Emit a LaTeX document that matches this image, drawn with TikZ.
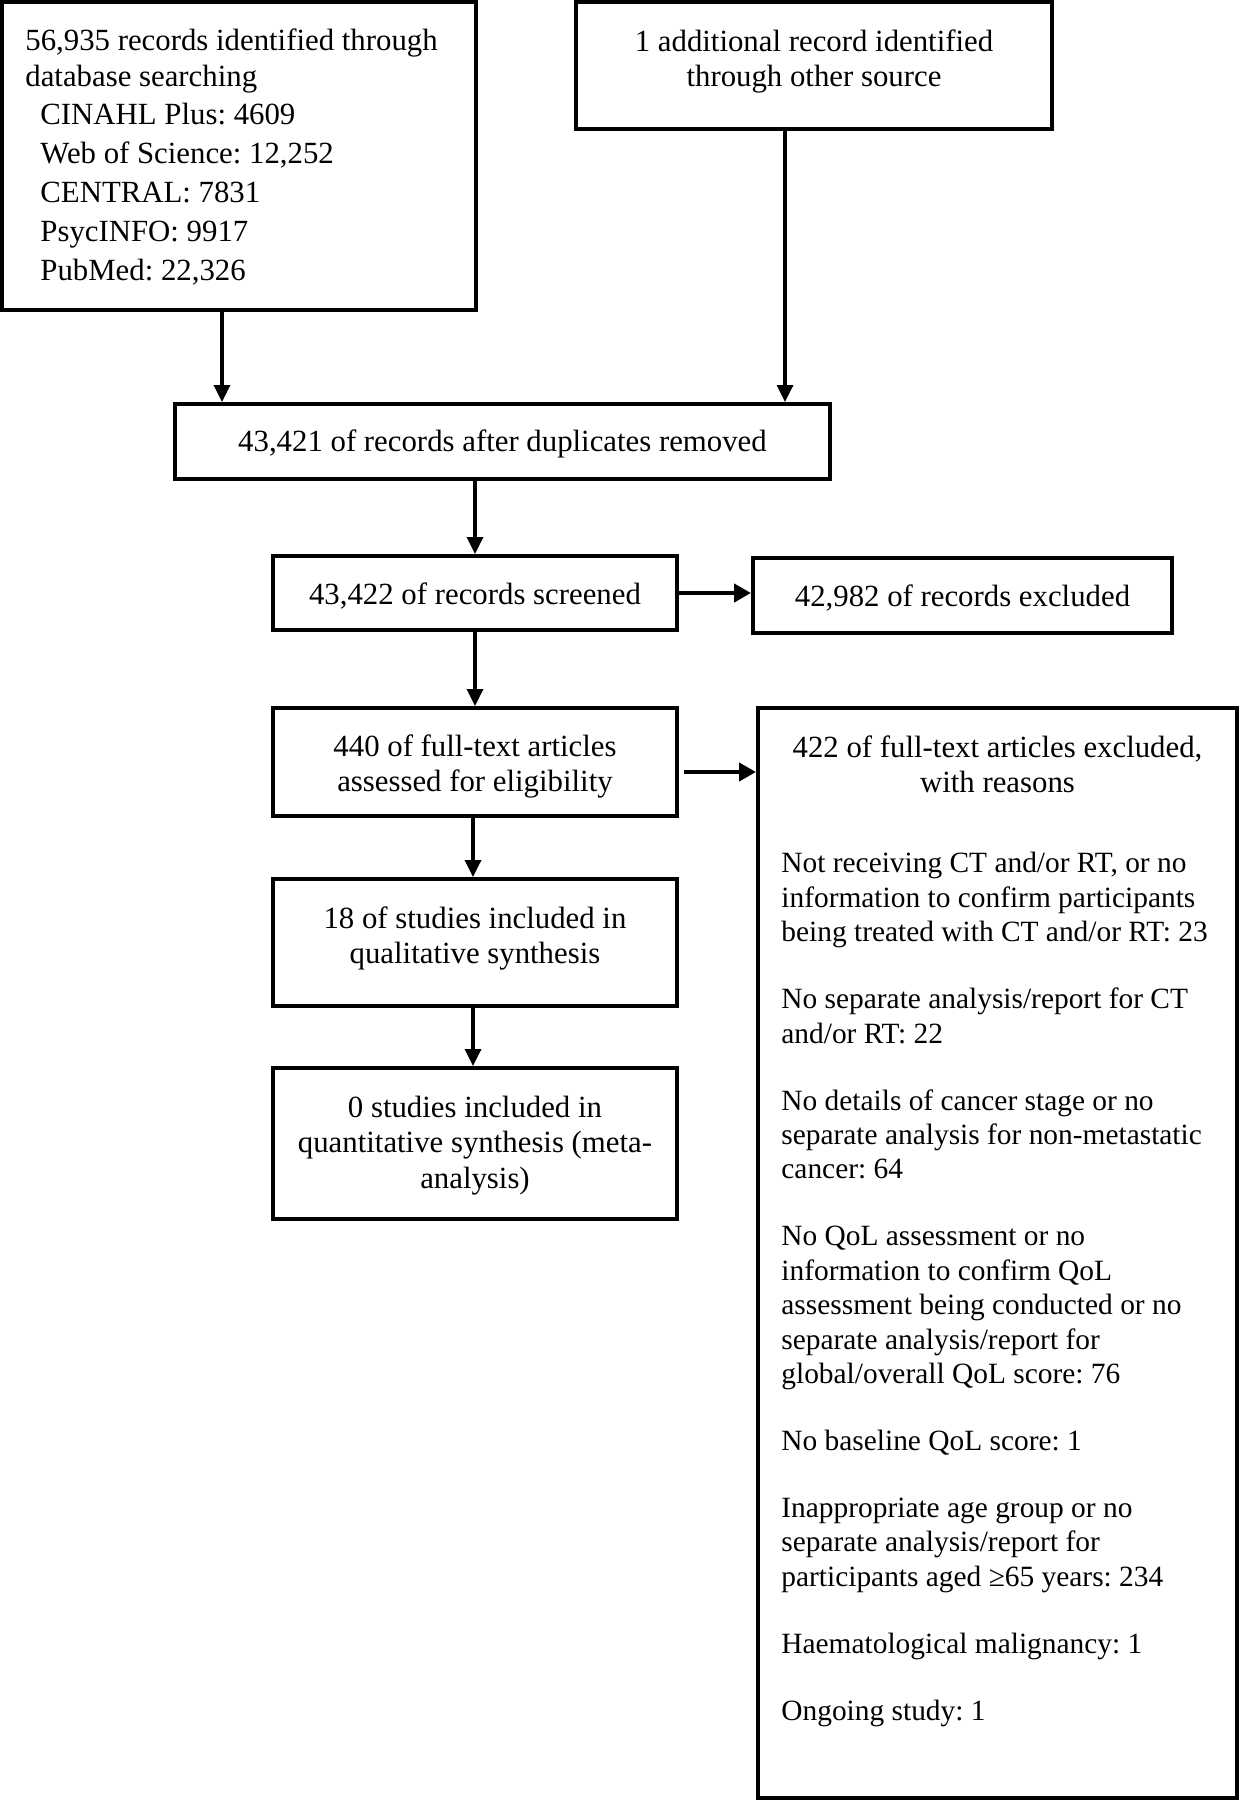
\documentclass[tikz,border=0pt]{standalone}
\usepackage{fontspec}
\setmainfont{Liberation Serif}
\frenchspacing
\usetikzlibrary{arrows.meta}
\begin{document}
\begin{tikzpicture}[x=0.5pt,y=-0.5pt,
  box/.style={draw=black, line width=2pt, inner sep=0pt, fill=none},
  txt/.style={inner sep=0pt, font=\fontsize{15.4}{17.8}\selectfont},
  bodytxt/.style={inner sep=0pt, font=\fontsize{14.7}{17.2}\selectfont, align=left},
  varr/.style={line width=1.7pt, -{Triangle[length=8.5pt,width=8pt]}},
  harr/.style={line width=2.3pt, -{Triangle[length=8.5pt,width=9pt]}}]
\useasboundingbox (0,0) rectangle (1240,1800);
% boxes
\node[box, minimum width=237pt, minimum height=154pt] (A) at (239,156) {};
\node[box, minimum width=238pt, minimum height=63.5pt] (B) at (814,65.5) {};
\node[box, minimum width=327.5pt, minimum height=37.5pt] (C) at (502.5,441.5) {};
\node[box, minimum width=202pt, minimum height=37pt] (D) at (475,593) {};
\node[box, minimum width=209.5pt, minimum height=37.5pt] (E) at (962.5,595.5) {};
\node[box, minimum width=202pt, minimum height=54pt] (F) at (475,762) {};
\node[box, minimum width=202pt, minimum height=63.5pt] (G) at (475,942.5) {};
\node[box, minimum width=202pt, minimum height=75.5pt] (H) at (475,1143.5) {};
\node[box, minimum width=239.5pt, minimum height=545pt] (I) at (997.5,1253) {};
% texts
\node[txt, anchor=north west, align=left] (At) at (25,28.5) {56,935 records identified through\\database searching\\[1.6pt]\hspace*{7.5pt}CINAHL Plus: 4609\\[1.6pt]\hspace*{7.5pt}Web of Science: 12,252\\[1.6pt]\hspace*{7.5pt}CENTRAL: 7831\\[1.6pt]\hspace*{7.5pt}PsycINFO: 9917\\[1.6pt]\hspace*{7.5pt}PubMed: 22,326};
\node[txt, anchor=north, align=center] (Bt) at (814,29) {1 additional record identified\\through other source};
\node[txt] (Ct) at ([yshift=-1.15pt]C.center) {43,421 of records after duplicates removed};
\node[txt] (Dt) at ([yshift=-1.7pt]D.center) {43,422 of records screened};
\node[txt] (Et) at ([yshift=-1.15pt]E.center) {42,982 of records excluded};
\node[txt, align=center] (Ft) at ([yshift=-2.3pt]F.center) {440 of full-text articles\\assessed for eligibility};
\node[txt, align=center] (Gt) at (475,938.5) {18 of studies included in\\qualitative synthesis};
\node[txt, align=center] (Ht) at ([yshift=-0.9pt]H.center) {0 studies included in\\quantitative synthesis (meta-\\analysis)};
\node[txt, anchor=north, align=center] (Ih) at (997.5,735) {422 of full-text articles excluded,\\with reasons};
\node[bodytxt, anchor=north west] (It) at (781,852) {Not receiving CT and/or RT, or no\\information to confirm participants\\being treated with CT and/or RT: 23\\[16.3pt]No separate analysis/report for CT\\and/or RT: 22\\[16.3pt]No details of cancer stage or no\\separate analysis for non-metastatic\\cancer: 64\\[16.3pt]No QoL assessment or no\\information to confirm QoL\\assessment being conducted or no\\separate analysis/report for\\global/overall QoL score: 76\\[16.3pt]No baseline QoL score: 1\\[16.3pt]Inappropriate age group or no\\separate analysis/report for\\participants aged ≥65 years: 234\\[16.3pt]Haematological malignancy: 1\\[16.3pt]Ongoing study: 1};
% connector x positions
\coordinate (xa) at (222,0);
\coordinate (xb) at (785,0);
% arrows
\draw[varr] (A.south -| xa) -- (C.north -| xa);
\draw[varr] (B.south -| xb) -- (C.north -| xb);
\draw[varr] (C.south -| D.north) -- (D.north);
\draw[harr] (D.east) -- (D.east -| E.west);
\draw[varr] (D.south) -- (F.north);
\draw[harr] ([xshift=2.5pt,yshift=-5pt]F.east) -- ([yshift=-5pt]F.east -| I.west);
\draw[varr] ([xshift=-1pt]F.south) -- ([xshift=-1pt]G.north);
\draw[varr] ([xshift=-1pt]G.south) -- ([xshift=-1pt]H.north);
\end{tikzpicture}
\end{document}
